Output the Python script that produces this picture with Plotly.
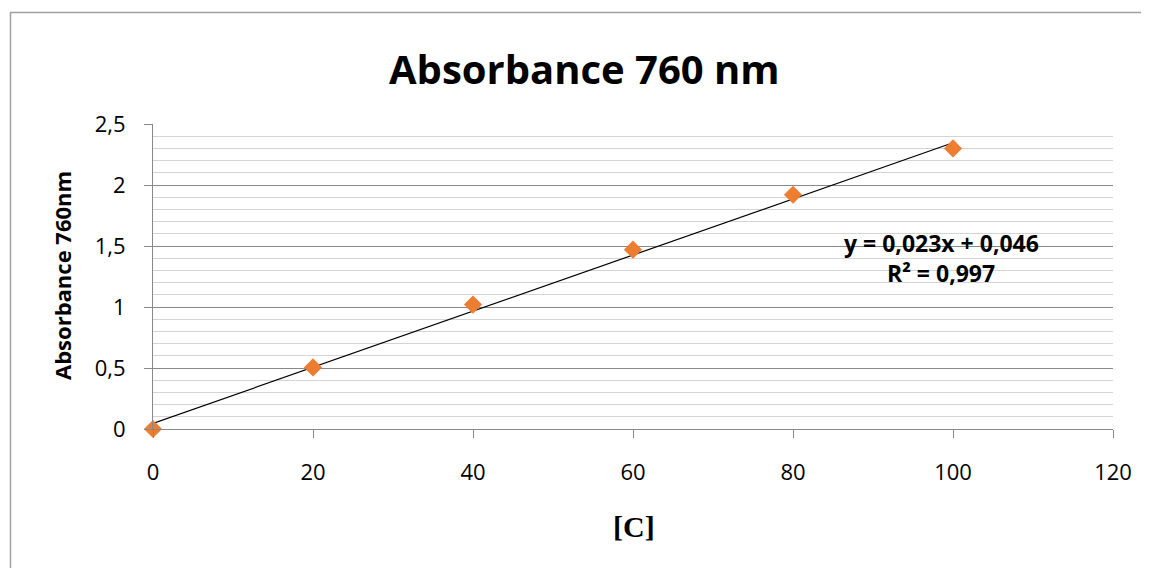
import plotly.graph_objects as go

# Data
conc = [0, 20, 40, 60, 80, 100]
absorb = [0.0, 0.505, 1.02, 1.47, 1.92, 2.30]
slope = 0.023
intercept = 0.046
r2 = 0.997
x_ticks = [0, 20, 40, 60, 80, 100, 120]
y_ticks = [0, 0.5, 1, 1.5, 2, 2.5]

W, H = 1149, 568
OFF = 8  # page body margin
# target plot area on screen: x 153..1113, y 124..429
L, T = 153 - OFF, 124 - OFF
R = W - (1113 - OFF)
B = H - (429 - OFF)
pw, ph = W - L - R, H - T - B

def px(xp):
    return (xp - OFF - L) / pw

def py(yp):
    return (H - B - (yp - OFF)) / ph

trend_x = [min(conc), max(conc)]
trend_y = [slope * v + intercept for v in trend_x]

fig = go.Figure()
fig.add_trace(go.Scatter(x=trend_x, y=trend_y, mode="lines",
                         line=dict(color="black", width=1.2), hoverinfo="skip"))
fig.add_trace(go.Scatter(x=conc, y=absorb, mode="markers", cliponaxis=False,
                         marker=dict(symbol="diamond", size=14, color="#ED7D31",
                                     line=dict(width=0))))

grid_major = "#888888"
grid_minor = "#d4d4d4"

fig.update_layout(
    width=W, height=H,
    margin=dict(l=L, r=R, t=T, b=B, pad=0),
    paper_bgcolor="white", plot_bgcolor="white",
    showlegend=False,
    separators=", ",
    font=dict(family="Open Sans", color="black"),
    xaxis=dict(range=[0, 120], tickvals=x_ticks, showgrid=False, zeroline=False,
               showline=True, linecolor=grid_major, linewidth=1,
               ticks="outside", ticklen=8, tickcolor=grid_major, tickwidth=1,
               tickfont=dict(size=22, family="Open Sans"), ticklabelstandoff=16),
    yaxis=dict(range=[0, 2.5], tickvals=y_ticks, showgrid=True, gridcolor=grid_major,
               gridwidth=1, zeroline=False,
               showline=True, linecolor=grid_major, linewidth=1,
               ticks="outside", ticklen=8, tickcolor=grid_major, tickwidth=1,
               tickfont=dict(size=22, family="Open Sans"), ticklabelstandoff=14,
               minor=dict(dtick=0.1, showgrid=True, gridcolor=grid_minor, gridwidth=1)),
    annotations=[
        dict(text="<b>Absorbance 760 nm</b>", x=px(584), y=py(68), xref="paper", yref="paper",
             showarrow=False, font=dict(size=40, family="Open Sans"), xanchor="center", yanchor="middle"),
        dict(text="<b>Absorbance 760nm</b>", x=px(62), y=py(276), xref="paper", yref="paper",
             showarrow=False, textangle=-90, font=dict(size=22, family="Open Sans"),
             xanchor="center", yanchor="middle"),
        dict(text="<b>[C]</b>", x=px(634), y=py(526), xref="paper", yref="paper",
             showarrow=False, font=dict(size=30, family="Liberation Serif"),
             xanchor="center", yanchor="middle"),
        dict(text="<b>y = 0,023x + 0,046</b>", x=px(941), y=py(243), xref="paper", yref="paper",
             showarrow=False, font=dict(size=23, family="Open Sans"),
             xanchor="center", yanchor="middle"),
        dict(text="<b>R² = 0,997</b>", x=px(941), y=py(273), xref="paper", yref="paper",
             showarrow=False, font=dict(size=23, family="Open Sans"),
             xanchor="center", yanchor="middle"),
    ],
    shapes=[
        dict(type="rect", xref="paper", yref="paper",
             x0=px(10.5), x1=px(W + 30), y0=py(H + 30), y1=py(12.5),
             line=dict(color="#a0a0a0", width=1.5), fillcolor="rgba(0,0,0,0)", layer="below"),
    ],
)

fig.write_html("out.html")
